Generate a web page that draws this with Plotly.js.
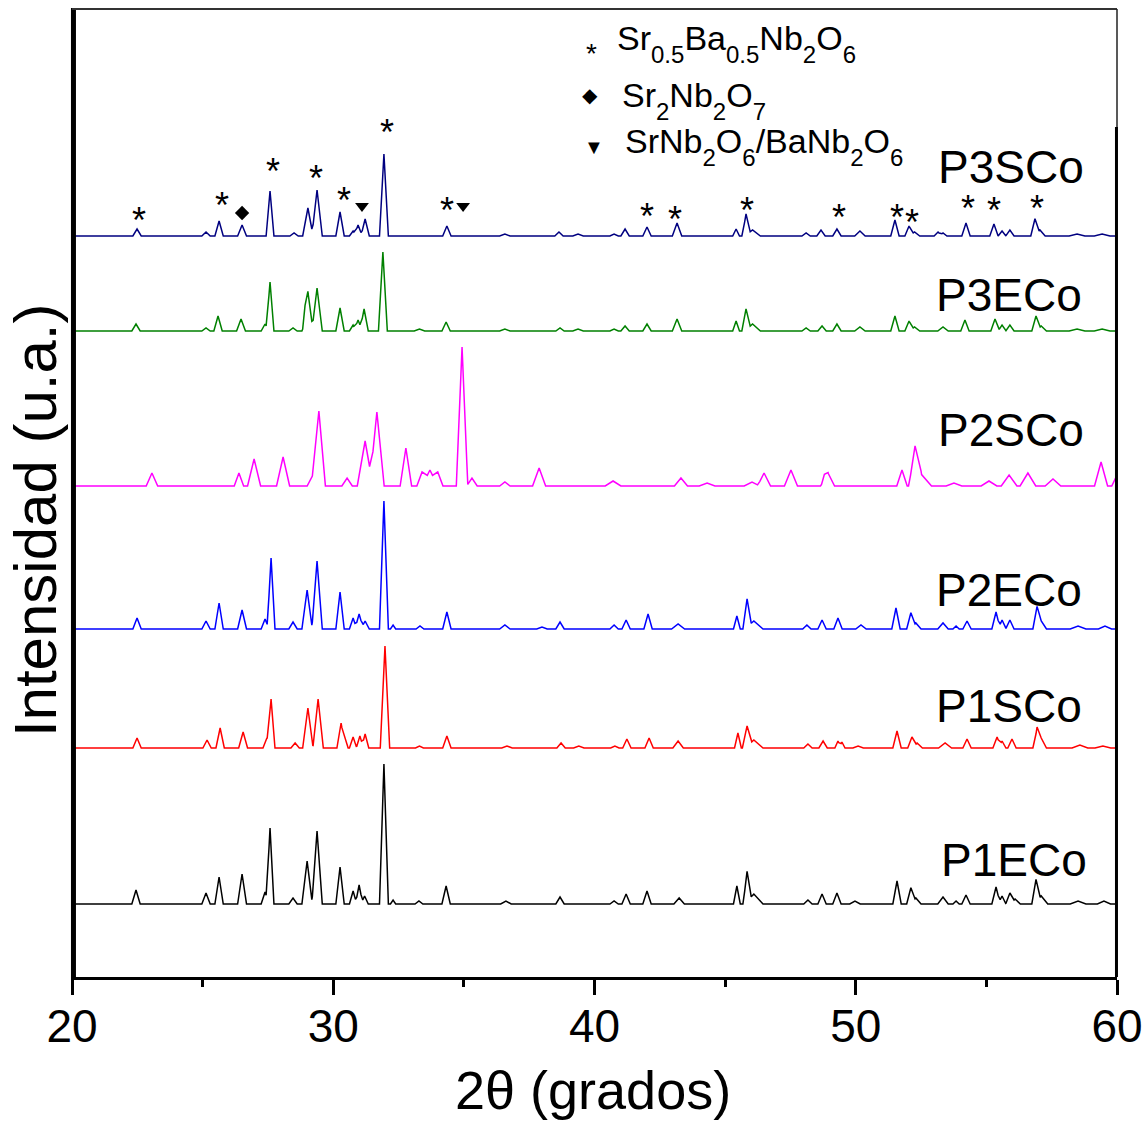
<!DOCTYPE html>
<html><head><meta charset="utf-8">
<script src="https://cdn.plot.ly/plotly-3.0.1.min.js"></script>
<style>html,body{margin:0;padding:0;background:#fff;} #chart{width:1148px;height:1121px;}</style>
</head><body><div id="chart"></div>
<script>
// ---------- data ----------
const sampleNames = ['P3SCo','P3ECo','P2SCo','P2ECo','P1SCo','P1ECo'];
const sampleOffsets = [741, 646, 491, 348, 229, 73];
const sampleColors = ['#000080','#008000','#FF00FF','#0000FF','#FF0000','#000000'];

const p3s_pos = [22.49,25.13,25.63,26.51,27.58,28.50,29.03,29.38,30.26,30.76,30.95,31.22,31.94,34.35,36.57,38.64,39.37,40.75,41.17,42.01,43.16,45.42,45.80,46.05,48.10,48.67,49.28,50.16,51.50,52.04,52.25,53.15,53.34,54.22,55.29,55.60,55.90,56.86,57.05,58.47,59.43];
const p3s_int = [7,4,15,11,45,3,28,46,24,5,11,17,82,10,2,4,2,2,7,9,13,7,21,6,3,6,7,5,16,10,4,4,3,13,12,5,6,17,6,2,2];
const p3s_wid = [.16,.16,.16,.17,.15,.16,.2,.2,.16,.14,.16,.16,.17,.16,.2,.16,.2,.16,.16,.16,.18,.13,.16,.3,.16,.16,.16,.2,.16,.16,.2,.15,.15,.16,.16,.15,.16,.16,.2,.3,.3];

const p3e_pos = [22.45,25.13,25.59,26.47,27.39,27.58,28.46,28.92,29.03,29.38,30.26,30.76,30.95,31.18,31.90,33.30,34.32,36.57,38.68,39.37,40.75,41.17,42.01,43.16,45.42,45.80,46.05,48.10,48.71,49.28,50.16,51.50,52.04,52.25,53.34,54.18,55.33,55.60,55.90,56.90,57.10,58.47,59.43];
const p3e_int = [7,3,15,12,7,49,3,8,39,43,23,6,11,22,79,2,9,2,3,2,2,5,7,12,10,21,7,3,5,7,4,15,10,4,4,11,12,6,6,15,5,2,2];
const p3e_wid = [.16,.16,.16,.17,.15,.15,.16,.12,.2,.2,.16,.14,.16,.16,.17,.2,.16,.2,.16,.2,.16,.16,.16,.18,.13,.16,.3,.16,.16,.16,.2,.16,.16,.2,.2,.16,.16,.15,.16,.16,.2,.3,.3];

const p2s_pos = [23.06,26.39,26.97,28.08,29.20,29.45,30.53,31.22,31.67,32.78,33.40,33.70,34.00,34.93,35.31,36.57,37.88,40.71,43.31,44.31,46.03,46.49,47.52,48.80,48.94,51.77,52.27,52.50,53.76,55.10,55.87,56.59,57.55,59.39,60.00];
const p2s_int = [13,13,27,29,10,75,8,45,74,38,14,16,14,139,8,4,18,5,8,3,4,13,16,6,13,16,35,12,3,5,11,13,7,24,11];
const p2s_wid = [.22,.18,.25,.25,.2,.25,.2,.3,.28,.22,.2,.3,.2,.22,.2,.2,.25,.3,.25,.3,.3,.25,.25,.15,.25,.2,.25,.4,.3,.3,.3,.3,.3,.25,.2];

const p2e_pos = [22.49,25.13,25.63,26.51,27.39,27.62,28.46,29.00,29.38,30.26,30.76,30.99,31.22,31.94,32.29,33.32,34.35,36.57,37.99,38.68,40.75,41.21,42.05,43.20,45.45,45.84,46.10,48.13,48.71,49.32,50.20,51.54,52.11,52.30,53.34,53.84,54.26,55.37,55.60,55.90,56.94,57.10,58.51,59.54];
const p2e_int = [11,8,26,19,10,71,7,39,68,37,11,15,8,128,4,3,17,4,2,7,4,9,15,5,13,28,8,4,9,11,4,21,16,6,6,3,8,17,9,9,21,8,3,3];
const p2e_wid = [.16,.16,.16,.17,.15,.15,.16,.2,.2,.16,.14,.16,.16,.17,.1,.15,.16,.2,.2,.16,.16,.16,.16,.25,.13,.16,.35,.16,.16,.16,.2,.16,.16,.2,.2,.12,.16,.16,.15,.16,.16,.2,.3,.25];

const p1s_pos = [22.49,25.17,25.67,26.55,27.46,27.62,28.54,29.03,29.42,30.30,30.45,30.76,31.02,31.22,31.98,33.30,34.35,36.65,38.72,39.40,40.78,41.24,42.09,43.20,45.49,45.84,46.10,48.17,48.75,49.32,49.47,50.09,51.58,52.15,52.35,53.42,54.26,55.41,55.60,55.98,56.94,57.10,58.58,59.46];
const p1s_int = [10,8,20,16,10,49,5,40,49,25,8,11,12,14,102,2,12,2,5,2,2,9,10,7,15,20,8,4,7,7,6,2,17,11,5,5,9,11,7,9,19,10,3,2];
const p1s_wid = [.16,.16,.16,.17,.15,.15,.16,.2,.2,.16,.12,.14,.14,.14,.18,.15,.16,.2,.16,.2,.16,.16,.16,.2,.13,.18,.35,.16,.16,.12,.12,.2,.16,.16,.2,.25,.16,.16,.15,.16,.16,.2,.3,.3];

const p1e_pos = [22.45,25.13,25.63,26.51,27.39,27.58,28.46,29.00,29.38,30.26,30.76,30.99,31.20,31.94,32.29,33.28,34.32,36.61,38.68,40.75,41.21,42.01,43.24,45.45,45.84,46.10,48.17,48.71,49.28,49.97,51.58,52.11,52.30,53.34,53.84,54.22,55.37,55.60,55.90,56.10,56.90,57.10,58.51,59.50];
const p1e_int = [14,11,27,30,12,76,6,43,73,37,13,19,8,140,4,3,18,3,7,3,10,13,6,18,30,10,4,10,11,3,23,16,6,7,3,9,17,8,11,5,23,8,3,3];
const p1e_wid = [.16,.16,.16,.17,.15,.15,.16,.2,.2,.16,.14,.14,.14,.17,.1,.15,.16,.2,.16,.16,.16,.16,.2,.13,.16,.35,.16,.16,.16,.2,.16,.16,.2,.2,.12,.16,.16,.15,.16,.2,.16,.25,.3,.25];

// phase marks above the P3SCo pattern
const starX = [22.56,25.74,27.69,29.34,30.41,32.06,34.35,42.01,43.08,45.84,49.36,51.58,52.15,54.30,55.29,56.94];
const starY = [765,780,814,807,785,853,775,769,766,775,768,768,763,777,775,777];
const diamondX = [26.51];
const diamondY = [764];
const triX = [31.10,34.97];
const triY = [771,771];

const xTickVals = [20,30,40,50,60];
const xRange = [20,60];
const yRange = [0,968];

// ---------- build ----------
function profile(pos, inten, wid, base){
  let xs = [xRange[0], xRange[1]];
  pos.forEach((p,i)=>{ xs.push(p-wid[i], p, p+wid[i]); });
  xs = xs.filter(x=>x>=xRange[0]-1e-9 && x<=xRange[1]+1e-9).sort((a,b)=>a-b);
  const ux = [];
  xs.forEach(x=>{ if(!ux.length || Math.abs(x-ux[ux.length-1])>1e-9) ux.push(x); });
  const ys = ux.map(x=>{
    let s = base;
    pos.forEach((p,i)=>{ const d=Math.abs(x-p); if(d<wid[i]) s += inten[i]*(1-d/wid[i]); });
    return s;
  });
  return {x:ux, y:ys};
}

const seriesData = [
  [p3s_pos,p3s_int,p3s_wid],[p3e_pos,p3e_int,p3e_wid],[p2s_pos,p2s_int,p2s_wid],
  [p2e_pos,p2e_int,p2e_wid],[p1s_pos,p1s_int,p1s_wid],[p1e_pos,p1e_int,p1e_wid]
];

const traces = seriesData.map((s,i)=>{
  const pr = profile(s[0], s[1], s[2], sampleOffsets[i]);
  return {x:pr.x, y:pr.y, type:'scatter', mode:'lines', name:sampleNames[i],
          line:{color:sampleColors[i], width:1.5}, hoverinfo:'skip'};
});
traces.push({x:diamondX, y:diamondY, type:'scatter', mode:'markers',
  marker:{symbol:'diamond', size:11, color:'#000'}, hoverinfo:'skip'});
traces.push({x:triX, y:triY, type:'scatter', mode:'markers',
  marker:{symbol:'triangle-down', size:12, color:'#000'}, hoverinfo:'skip'});

const FONT = 'Arial, "Liberation Sans", sans-serif';
const annotations = [];
starX.forEach((x,i)=>{
  annotations.push({x:x, y:starY[i], xref:'x', yref:'y', text:'*', showarrow:false,
    font:{family:FONT, size:36, color:'#000'}, xanchor:'center', yanchor:'middle', yshift:-8});
});
// sample labels
const labelPos = [[0.8986,0.8368],[0.8971,0.7045],[0.8986,0.5651],[0.8971,0.3998],[0.8962,0.2800],[0.9019,0.1209]];
sampleNames.forEach((n,i)=>{
  annotations.push({x:labelPos[i][0], y:labelPos[i][1], xref:'paper', yref:'paper', text:n, showarrow:false,
    font:{family:FONT, size:46, color:'#000'}, xanchor:'center', yanchor:'middle'});
});
// phase legend
function sb(t){ return '<span style="font-size:24px;baseline-shift:-13px">' + t + '</span>'; }
const legRows = [
  {sym:'*', symSize:28, symX:0.4976, symY:0.9607, text:'Sr'+sb('0.5')+'Ba'+sb('0.5')+'Nb'+sb('2')+'O'+sb('6'), tx:0.5195, ty:0.9918},
  {sym:'◆', symSize:20, symX:0.4957, symY:0.9112, text:'Sr'+sb('2')+'Nb'+sb('2')+'O'+sb('7'), tx:0.5243, ty:0.9330},
  {sym:'▼', symSize:20, symX:0.4995, symY:0.8574, text:'SrNb'+sb('2')+'O'+sb('6')+'/BaNb'+sb('2')+'O'+sb('6'), tx:0.5272, ty:0.8853}
];
legRows.forEach(r=>{
  annotations.push({x:r.symX, y:r.symY, xref:'paper', yref:'paper', text:r.sym, showarrow:false,
    font:{family:FONT, size:r.symSize, color:'#000'}, xanchor:'center', yanchor:'middle', yshift:(r.sym==='*'?-6:0)});
  annotations.push({x:r.tx, y:r.ty, xref:'paper', yref:'paper', text:r.text, showarrow:false,
    font:{family:FONT, size:34, color:'#000'}, xanchor:'left', yanchor:'top'});
});
// axis titles
annotations.push({x:0.4986, y:-0.1167, xref:'paper', yref:'paper', text:'2θ (grados)', showarrow:false,
  font:{family:FONT, size:54, color:'#000'}, xanchor:'center', yanchor:'middle'});
annotations.push({x:-0.0354, y:0.472, xref:'paper', yref:'paper', text:'Intensidad (u.a.)', showarrow:false,
  textangle:-90, font:{family:FONT, size:60, color:'#000'}, xanchor:'center', yanchor:'middle'});

const topSplit = (977-127)/968;
const layout = {
  width:1148, height:1121,
  margin:{l:72, r:31, t:9, b:144},
  paper_bgcolor:'#fff', plot_bgcolor:'#fff',
  showlegend:false,
  font:{family:FONT, color:'#000'},
  xaxis:{range:xRange, tickvals:xTickVals, ticks:'outside', ticklen:15, tickwidth:3, tickcolor:'#000',
    minor:{tickvals:[25,35,45,55], ticks:'outside', ticklen:7, tickwidth:3, tickcolor:'#000'},
    showline:true, linewidth:3, linecolor:'#000', showgrid:false, zeroline:false, ticklabelstandoff:-8,
    tickfont:{family:FONT, size:46, color:'#000'}, fixedrange:true},
  yaxis:{range:yRange, showticklabels:false, ticks:'', showline:false, showgrid:false, zeroline:false, fixedrange:true},
  annotations:annotations,
  shapes:[
    {type:'line', xref:'paper', yref:'paper', x0:0.0014, x1:0.0014, y0:-0.003, y1:1.001, line:{color:'#000', width:5}},
    {type:'line', xref:'paper', yref:'paper', x0:0, x1:1, y0:1, y1:1, line:{color:'#333', width:2}},
    {type:'line', xref:'paper', yref:'paper', x0:1, x1:1, y0:topSplit, y1:1, line:{color:'#222', width:1.5}},
    {type:'line', xref:'paper', yref:'paper', x0:0.9995, x1:0.9995, y0:0, y1:topSplit, line:{color:'#000', width:3}}
  ]
};
Plotly.newPlot('chart', traces, layout, {displayModeBar:false, staticPlot:true});
</script>
</body></html>
